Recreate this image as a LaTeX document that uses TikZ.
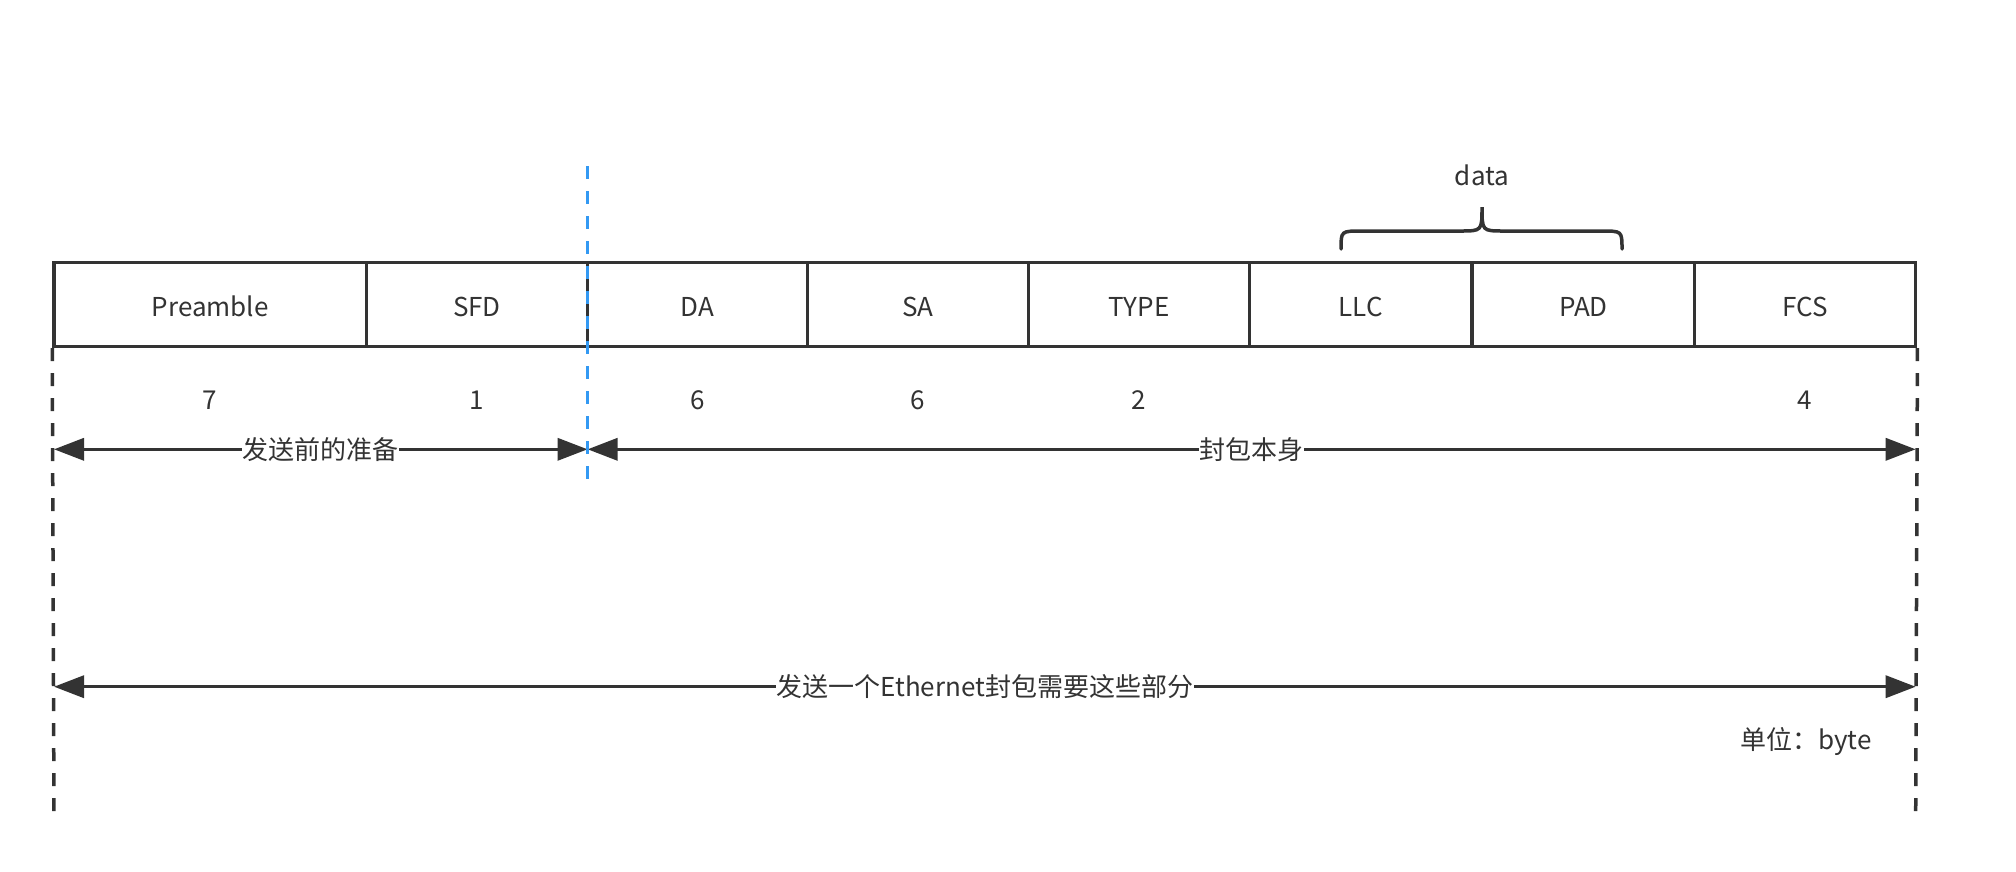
\documentclass[tikz,border=0pt]{standalone}
\usepackage{fontspec}
\setmainfont{Noto Sans CJK SC}
\usetikzlibrary{arrows.meta}
\definecolor{ink}{HTML}{333333}
\definecolor{blueline}{HTML}{3399F3}
\tikzset{
  cell/.style={draw=ink, line width=3.5pt, minimum height=83.6pt, inner sep=0pt, text=ink, text height=24.4pt, text depth=0pt, font=\fontsize{26}{30}\selectfont},
  num/.style={text=ink, font=\fontsize{26}{30}\selectfont, inner sep=0pt},
  lbl/.style={text=ink, font=\fontsize{26}{30}\selectfont, fill=white, inner sep=0.5pt},
  dimarrow/.style={draw=ink, line width=3.5pt, {Triangle[length=30pt,width=22pt]}-{Triangle[length=30pt,width=22pt]}},
  guide/.style={draw=ink, line width=3.5pt, dash pattern=on 13pt off 12pt},
  bluedash/.style={draw=blueline, line width=3.5pt, dash pattern=on 13pt off 12pt},
  bracestyle/.style={draw=ink, line width=3.5pt, line cap=round}
}
\begin{document}
\begin{tikzpicture}[x=1pt,y=-1pt]
\useasboundingbox[fill=white] (0,0) rectangle (2016,871);
% cells
\node[cell, minimum width=312.4pt] (pre)  at (210.2,304.5) {Preamble};
\node[cell, minimum width=221.2pt] (sfd)  at (477.0,304.5) {SFD};
\node[cell, minimum width=219.8pt] (da)   at (697.5,304.5) {DA};
\node[cell, minimum width=221.2pt] (sa)   at (918.0,304.5) {SA};
\node[cell, minimum width=221.1pt] (type) at (1139.15,304.5) {TYPE};
\node[cell, minimum width=222.4pt] (llc)  at (1360.9,304.5) {LLC};
\node[cell, minimum width=222.5pt] (pad)  at (1583.35,304.5) {PAD};
\node[cell, minimum width=221.1pt] (fcs)  at (1805.15,304.5) {FCS};
% sizes
\node[num] (n1) at (210.2,400) {7};
\node[num] (n2) at (477.0,400) {1};
\node[num] (n3) at (697.5,400) {6};
\node[num] (n4) at (918.0,400) {6};
\node[num] (n5) at (1139.15,400) {2};
\node[num] (n8) at (1805.15,400) {4};
% data brace
\node[num] (data) at (1482,175) {data};
\coordinate (bl) at (1341,249);
\coordinate (br) at (1622,249);
\coordinate (btip) at (1482,207);
\draw[bracestyle] (bl) .. controls (1341,231) .. (1362,231) -- (1460,231) .. controls (1482,231) .. (btip)
  .. controls (1482,231) .. (1504,231) -- (1601,231) .. controls (1622,231) .. (br);
% guides
\coordinate (gl) at (54,820);
\coordinate (gr) at (1915.7,813);
\draw[guide] (pre.south west) -- (gl);
\draw[guide] (fcs.south east) -- (gr);
% arrows
\coordinate (a1) at (54,449.3);
\coordinate (a2) at (587.6,449.3);
\coordinate (a3) at (1915.7,449.3);
\coordinate (b1) at (54,686.7);
\coordinate (b2) at (1915.7,686.7);
\draw[dimarrow] (a1) -- node[lbl] {发送前的准备} (a2);
\draw[dimarrow] (a2) -- node[lbl] {封包本身} (a3);
\draw[dimarrow] (b1) -- node[lbl] {发送一个Ethernet封包需要这些部分} (b2);
% blue divider
\coordinate (bt) at (587.6,166);
\coordinate (bb) at (587.6,487);
\draw[bluedash] (bt) -- (bb);
% unit
\node[num] (unit) at (1806,741.7) {单位：byte};
\end{tikzpicture}
\end{document}
